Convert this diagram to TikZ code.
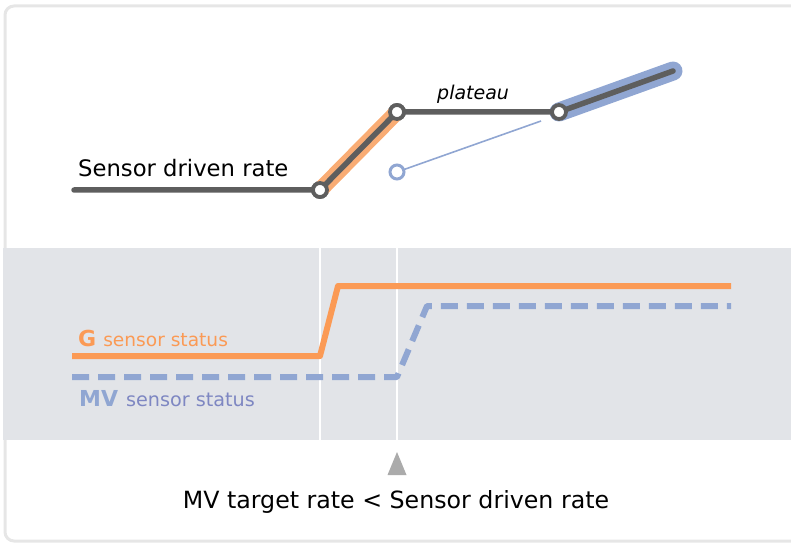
\documentclass[tikz,border=0pt]{standalone}
\usepackage{fontspec}
\setmainfont{DejaVu Sans}
\definecolor{rategray}{HTML}{5E5E5E}
\definecolor{gorange}{HTML}{FB9A55}
\definecolor{gglow}{HTML}{F9AC74}
\definecolor{mvblue}{HTML}{90A6D2}
\definecolor{mvtext}{HTML}{7E87C2}
\definecolor{bandgray}{HTML}{E2E4E8}
\definecolor{framegray}{HTML}{E6E6E6}
\definecolor{markgray}{HTML}{ABABAB}
\begin{document}
\begin{tikzpicture}[x=1pt, y=-1pt,
    rate/.style={draw=rategray, line width=5.5pt, line cap=round, line join=round},
    knot/.style={circle, draw=rategray, fill=white, line width=3.8pt, inner sep=0pt, minimum size=14pt},
    lbl/.style={anchor=base west, inner sep=0pt, font=\fontsize{22.7}{27}\selectfont},
    status/.style={line width=6pt, line join=round}]

    \useasboundingbox (0,0) rectangle (791,545);

    % ===== FRAME AND BAND =====
    \draw[framegray, line width=3pt, rounded corners=9pt] (5,6) rectangle (812,541);
    \fill[bandgray] (3,248) rectangle (791,440);
    \draw[white, line width=2pt] (320,248) -- (320,442);
    \draw[white, line width=2pt] (397,248) -- (397,447);

    % ===== RATE CURVE =====
    \coordinate (start) at (74,190);
    \coordinate (stop) at (673,71);
    \node[knot] (rise) at (320,190) {};
    \node[knot] (top) at (397,112) {};
    \node[knot] (flat) at (559,112) {};

    % highlights under the curve
    \draw[gglow, line width=16pt, line cap=round] (rise.center) -- (top.center);
    \draw[mvblue, line width=19pt, line cap=round] (flat.center) -- (stop);

    \draw[rate] (start) -- (rise.center) -- (top.center) -- (flat.center) -- (stop);
    \node[knot] at (rise) {};
    \node[knot] at (top) {};
    \node[knot] at (flat) {};

    % MV target point
    \node[circle, draw=mvblue, fill=white, line width=3pt, inner sep=0pt, minimum size=14pt] (target) at (397,172) {};
    \coordinate (targetend) at (541,121);
    \draw[mvblue, line width=1.6pt] (target) -- (targetend);

    \node[lbl] (ratelbl) at (78,177) {Sensor driven rate};
    \node[lbl, font=\fontsize{19}{22}\selectfont\itshape] (plateau) at (437,100) {plateau};

    % ===== SENSOR STATUS =====
    \draw[status, gorange] (72,356) -- (320,356) -- (338,286) -- (731,286);
    \draw[status, mvblue, dash pattern=on 17pt off 9pt] (72,377) -- (397,377) -- (427,306) -- (731,306);

    \node[lbl, font=\fontsize{22}{26}\selectfont, text=gorange] (glbl) at (78,346)
        {\textbf{G}\hspace{7pt}{\fontsize{18.6}{22}\selectfont sensor status}};
    \node[lbl, font=\fontsize{22}{26}\selectfont, text=mvblue] (mvlbl) at (79,406)
        {\textbf{MV}\hspace{8pt}{\fontsize{19.2}{22}\selectfont\color{mvtext}sensor status}};

    % ===== MARKER =====
    \fill[markgray] (397,452) -- (406.5,475) -- (387.5,475) -- cycle;
    \node[lbl, anchor=base, font=\fontsize{23.7}{28}\selectfont] (cmp) at (396,508) {MV target rate < Sensor driven rate};

\end{tikzpicture}
\end{document}
